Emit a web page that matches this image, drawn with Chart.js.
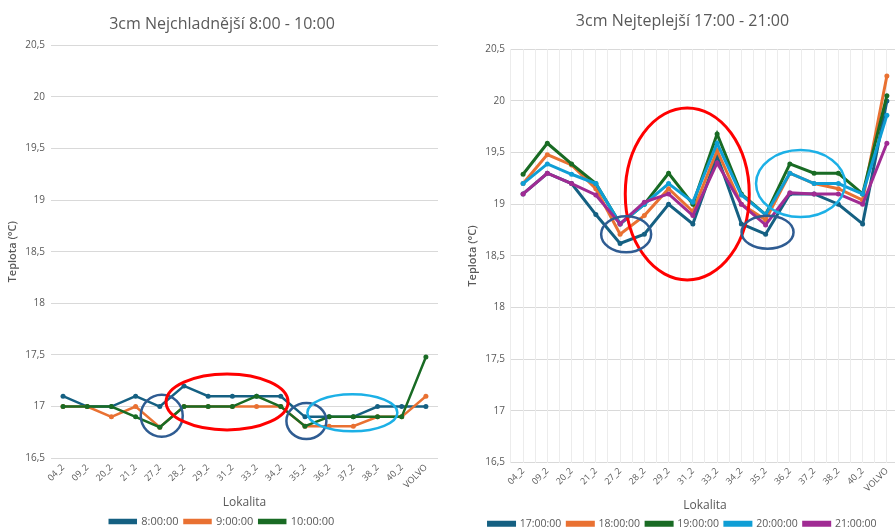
<!DOCTYPE html>
<html>
<head>
<meta charset="utf-8">
<script src="https://cdn.jsdelivr.net/npm/chart.js@4.4.1/dist/chart.umd.min.js"></script>
<style>
  html, body { margin: 0; padding: 0; background: #fff; overflow: hidden; width: 895px; height: 528px; }
  #wrapL { position: absolute; left: 0; top: 0; width: 450px; height: 537px; }
  #wrapR { position: absolute; left: 455px; top: 0; width: 450px; height: 539px; }
</style>
</head>
<body>
<div id="wrapL"><canvas id="chartL"></canvas></div>
<div id="wrapR"><canvas id="chartR"></canvas></div>
<script>
// lokality (osa X)
const lokality = ['04_2', '09_2', '20_2', '21_2', '27_2', '28_2', '29_2', '31_2', '33_2', '34_2', '35_2', '36_2', '37_2', '38_2', '40_2', 'VOLVO'];

// nejchladnejsi 8:00 - 10:00
const casyL = ['8:00:00', '9:00:00', '10:00:00'];
const t0800 = [17.1, 17.0, 17.0, 17.1, 17.0, 17.2, 17.1, 17.1, 17.1, 17.1, 16.9, 16.9, 16.9, 17.0, 17.0, 17.0];
const t0900 = [17.0, 17.0, 16.9, 17.0, 16.8, 17.0, 17.0, 17.0, 17.0, 17.0, 16.81, 16.81, 16.81, 16.9, 16.9, 17.1];
const t1000 = [17.0, 17.0, 17.0, 16.9, 16.8, 17.0, 17.0, 17.0, 17.1, 17.0, 16.81, 16.9, 16.9, 16.9, 16.9, 17.48];

// nejteplejsi 17:00 - 21:00
const casyR = ['17:00:00', '18:00:00', '19:00:00', '20:00:00', '21:00:00'];
const t1700 = [19.1, 19.3, 19.2, 18.9, 18.62, 18.71, 19.0, 18.81, 19.47, 18.81, 18.71, 19.1, 19.1, 19.0, 18.81, 20.0];
const t1800 = [19.2, 19.48, 19.38, 19.15, 18.71, 18.89, 19.15, 18.93, 19.52, 19.0, 18.85, 19.3, 19.2, 19.15, 19.04, 20.24];
const t1900 = [19.29, 19.59, 19.39, 19.2, 18.81, 19.0, 19.3, 19.0, 19.68, 19.1, 18.9, 19.39, 19.3, 19.3, 19.1, 20.05];
const t2000 = [19.2, 19.39, 19.29, 19.2, 18.81, 19.0, 19.2, 19.02, 19.59, 19.09, 18.9, 19.3, 19.2, 19.2, 19.1, 19.86];
const t2100 = [19.1, 19.3, 19.2, 19.09, 18.81, 19.02, 19.1, 18.89, 19.4, 19.0, 18.8, 19.11, 19.1, 19.1, 19.0, 19.59];

const yMin = 16.5, yMax = 20.5, yStep = 0.5;

// rucne dokreslene elipsy: stred [index lokality, teplota]
const elipsyL = [
  { x: 4.08, y: 16.91, rx: 21, ry: 21, color: '#2F5C92', w: 2.5 },
  { x: 6.78, y: 17.045, rx: 61, ry: 28, color: '#FF0000', w: 3 },
  { x: 10.06, y: 16.86, rx: 20, ry: 18, color: '#2F5C92', w: 2.5 },
  { x: 11.96, y: 16.94, rx: 45, ry: 18.5, color: '#1CB0E6', w: 2.5 }
];
const elipsyR = [
  { x: 6.77, y: 19.1, rx: 62, ry: 86, color: '#FF0000', w: 3 },
  { x: 4.25, y: 18.71, rx: 25, ry: 18, color: '#2F5C92', w: 2.5 },
  { x: 10.08, y: 18.73, rx: 26, ry: 16.5, color: '#2F5C92', w: 2.5 },
  { x: 11.44, y: 19.2, rx: 44.5, ry: 33.5, color: '#1CB0E6', w: 2.5 }
];

const barvy = ['#156082', '#E97132', '#196B24', '#0F9ED5', '#A02B93'];
const sedaText = '#595959';

Chart.defaults.font.family = "'Open Sans', sans-serif";
Chart.defaults.color = sedaText;

const fmt = v => String(Math.round(v * 10) / 10).replace('.', ',');

function elipsyPlugin(list) {
  return {
    id: 'elipsy',
    afterDatasetsDraw(chart) {
      const ctx = chart.ctx, sx = chart.scales.x, sy = chart.scales.y;
      ctx.save();
      list.forEach(e => {
        ctx.beginPath();
        ctx.ellipse(sx.getPixelForValue(e.x), sy.getPixelForValue(e.y), e.rx, e.ry, 0, 0, Math.PI * 2);
        ctx.strokeStyle = e.color;
        ctx.lineWidth = e.w;
        ctx.stroke();
      });
      ctx.restore();
    }
  };
}

function serie(labels, values, lw) {
  return values.map((data, i) => ({
    label: labels[i],
    data,
    borderColor: barvy[i],
    backgroundColor: barvy[i],
    borderWidth: lw,
    pointRadius: 2.5,
    pointBorderWidth: 0,
    pointBackgroundColor: barvy[i],
    tension: 0,
    order: values.length - i,
    xAxisID: 'x'
  }));
}

function options(title, o) {
  const scales = {
    x: {
      offset: true,
      grid: { display: false, drawTicks: false },
      border: { display: false },
      ticks: { font: { size: 9 }, maxRotation: 45, minRotation: 45, autoSkip: false, padding: o.tickPad },
      title: { display: true, text: 'Lokalita', font: { size: 12 }, padding: { top: 1, bottom: 0 } }
    },
    y: {
      min: yMin, max: yMax,
      grid: { color: '#d9d9d9', drawTicks: false },
      border: { display: false },
      ticks: { stepSize: yStep, font: { size: 10 }, padding: 6, callback: fmt },
      title: { display: true, text: 'Teplota (°C)', font: { size: 11, weight: '600' }, padding: { top: 0, bottom: 0 } }
    }
  };
  if (o.vGrid) {
    scales.xg = {
      type: 'linear', position: 'bottom', min: -0.5, max: lokality.length - 0.5,
      ticks: { display: false, stepSize: 0.5 },
      grid: { color: '#ececec', drawTicks: false },
      border: { display: false }
    };
  }
  return {
    responsive: true,
    maintainAspectRatio: false,
    animation: false,
    layout: { padding: o.pad },
    plugins: {
      title: { display: true, text: title, color: sedaText, font: { size: 16, weight: 'normal' }, padding: o.titlePad },
      legend: {
        position: 'bottom',
        labels: { boxWidth: 26, boxHeight: 3, font: { size: o.legendFont }, padding: 6, sort: (a, b) => a.datasetIndex - b.datasetIndex }
      },
      tooltip: { enabled: false }
    },
    scales
  };
}

new Chart(document.getElementById('chartL'), {
  type: 'line',
  data: { labels: lokality, datasets: serie(casyL, [t0800, t0900, t1000], 2.5) },
  options: options('3cm Nejchladnější 8:00 - 10:00', {
    vGrid: false, pad: { left: 6, right: 12, top: 0, bottom: 0 },
    titlePad: { top: 15, bottom: 11 }, legendFont: 11, tickPad: 4
  }),
  plugins: [elipsyPlugin(elipsyL)]
});

new Chart(document.getElementById('chartR'), {
  type: 'line',
  data: { labels: lokality, datasets: serie(casyR, [t1700, t1800, t1900, t2000, t2100], 3) },
  options: options('3cm Nejteplejší 17:00 - 21:00', {
    vGrid: true, pad: { left: 11, right: 6, top: 0, bottom: 0 },
    titlePad: { top: 12, bottom: 18 }, legendFont: 10.5, tickPad: 3
  }),
  plugins: [elipsyPlugin(elipsyR)]
});
</script>
</body>
</html>
